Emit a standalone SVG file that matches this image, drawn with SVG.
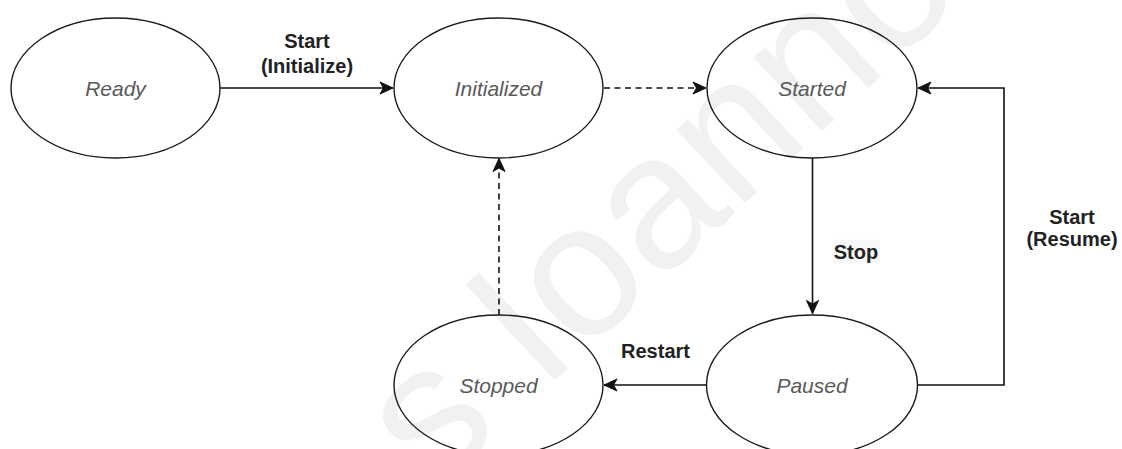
<svg xmlns="http://www.w3.org/2000/svg" width="1122" height="449" viewBox="0 0 1122 449">
  <style>
    .state { fill: none; stroke: #1a1a1a; stroke-width: 1.4; }
    .state-label { font-family: "Liberation Sans", Arial, sans-serif; font-size: 21px; font-style: italic; fill: #595959; text-anchor: middle; }
    .edge { fill: none; stroke: #111; stroke-width: 1.6; }
    .dashed { stroke-dasharray: 6 4.5; }
    .edge-label { font-family: "Liberation Sans", Arial, sans-serif; font-size: 20px; font-weight: bold; fill: #222; text-anchor: middle; }
    .mark { font-family: "Liberation Sans", Arial, sans-serif; font-size: 190px; fill: #f1f1f1; }
  </style>
  <defs>
    <marker id="arrow" viewBox="-14 -7 15 14" refX="0" refY="0" markerWidth="15" markerHeight="14" markerUnits="userSpaceOnUse" orient="auto">
      <path d="M0,0 L-13,-6 L-9.5,0 L-13,6 Z" fill="#111" stroke="#111" stroke-width="1" stroke-linejoin="miter"/>
    </marker>
  </defs>

  <rect width="1122" height="449" fill="#fff"/>

  <!-- background name mark -->
  <text class="mark" x="434" y="493" transform="rotate(-43 434 493)">s Ioannou</text>

  <!-- states -->
  <g id="ready">
    <ellipse class="state" cx="115.5" cy="88" rx="104.5" ry="70"/>
    <text class="state-label" x="115.5" y="95.5">Ready</text>
  </g>
  <g id="initialized">
    <ellipse class="state" cx="498.5" cy="88" rx="104.5" ry="70"/>
    <text class="state-label" x="498.5" y="95.5">Initialized</text>
  </g>
  <g id="started">
    <ellipse class="state" cx="812" cy="88" rx="105" ry="70"/>
    <text class="state-label" x="812" y="95.5">Started</text>
  </g>
  <g id="stopped">
    <ellipse class="state" cx="498.5" cy="385" rx="104.5" ry="70"/>
    <text class="state-label" x="498.5" y="392.5">Stopped</text>
  </g>
  <g id="paused">
    <ellipse class="state" cx="812" cy="385" rx="105.5" ry="70"/>
    <text class="state-label" x="812" y="392.5">Paused</text>
  </g>

  <!-- transitions -->
  <g id="connectors">
    <path class="edge" d="M220,88 H393" marker-end="url(#arrow)"/>
    <path class="edge dashed" d="M604,88 H706" marker-end="url(#arrow)"/>
    <path class="edge" d="M812.5,158 V313.5" marker-end="url(#arrow)"/>
    <path class="edge" d="M917.5,385 H1004 V88 H918" marker-end="url(#arrow)"/>
    <path class="edge" d="M706.5,385 H604" marker-end="url(#arrow)"/>
    <path class="edge dashed" d="M499,315 V158.5" marker-end="url(#arrow)"/>

    <text class="edge-label" x="307" y="48">Start</text>
    <text class="edge-label" x="307" y="72.5">(Initialize)</text>
    <rect x="833" y="239.5" width="47" height="24" fill="#f7f7f7"/>
    <text class="edge-label" x="856" y="259">Stop</text>
    <text class="edge-label" x="1072" y="224">Start</text>
    <text class="edge-label" x="1072" y="246">(Resume)</text>
    <text class="edge-label" x="655.5" y="358">Restart</text>
  </g>
</svg>
